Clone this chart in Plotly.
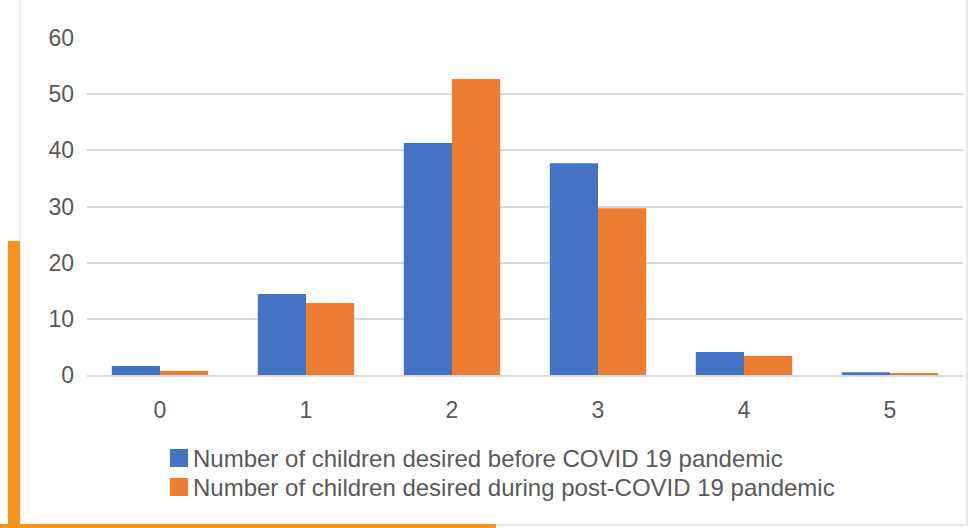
import plotly.graph_objects as go

# Number of children desired, share of respondents (%)
categories = ["0", "1", "2", "3", "4", "5"]
before_covid = [1.6, 14.4, 41.3, 37.7, 4.1, 0.5]
post_covid = [0.7, 12.8, 52.7, 29.7, 3.4, 0.3]
series_names = [
    "Number of children desired before COVID 19 pandemic",
    "Number of children desired during post-COVID 19 pandemic",
]
y_ticks = [0, 10, 20, 30, 40, 50, 60]

BLUE = "#4472C4"
ORANGE = "#ED7D31"
TEXT = "#595959"
FONT = "Liberation Sans, Arial, sans-serif"

W, H = 976, 528
ML, MR, MT, MB = 87, 13, 38, 153

fig = go.Figure()
fig.add_trace(go.Bar(x=categories, y=before_covid, name=series_names[0],
                     marker=dict(color=BLUE, line=dict(width=0))))
fig.add_trace(go.Bar(x=categories, y=post_covid, name=series_names[1],
                     marker=dict(color=ORANGE, line=dict(width=0))))


def px_x(p):
    return (p - ML) / (W - ML - MR)


def px_y(p):
    return (H - MB - p) / (H - MT - MB)


shapes = [
    # white card with a light border
    dict(type="rect", xref="paper", yref="paper",
         x0=px_x(20), x1=px_x(967), y0=px_y(525), y1=px_y(-5),
         fillcolor="white", line=dict(color="#e4e4e4", width=1.5), layer="below"),
    # orange accent strips of the page
    dict(type="rect", xref="paper", yref="paper",
         x0=px_x(8), x1=px_x(20), y0=px_y(528), y1=px_y(241),
         fillcolor="#F7941D", line=dict(width=0), layer="below"),
    dict(type="rect", xref="paper", yref="paper",
         x0=px_x(0), x1=px_x(496), y0=px_y(529), y1=px_y(524),
         fillcolor="#F7941D", line=dict(width=0), layer="below"),
]

# legend below the plot: colour key squares with their series names
annotations = []
legend_rows = [(series_names[0], BLUE, 458), (series_names[1], ORANGE, 487)]
for name, color, yc in legend_rows:
    shapes.append(dict(type="rect", xref="paper", yref="paper",
                       x0=px_x(170), x1=px_x(188), y0=px_y(yc + 9), y1=px_y(yc - 9),
                       fillcolor=color, line=dict(width=0)))
    annotations.append(dict(text=name, xref="paper", yref="paper",
                            x=px_x(191), y=px_y(yc), xanchor="left", yanchor="middle",
                            showarrow=False, font=dict(family=FONT, size=24, color=TEXT)))

fig.update_layout(
    width=W, height=H,
    margin=dict(l=ML, r=MR, t=MT, b=MB, pad=0),
    paper_bgcolor="white", plot_bgcolor="rgba(0,0,0,0)",
    barmode="group", bargap=0.34, bargroupgap=0,
    font=dict(family=FONT, color=TEXT, size=17),
    showlegend=False,
    shapes=shapes,
    annotations=annotations,
    xaxis=dict(showgrid=False, showline=True, linecolor="#d9d9d9", linewidth=2,
               ticks="", tickfont=dict(size=23, color=TEXT), ticklabelstandoff=13),
    yaxis=dict(range=[0, 60], tickvals=y_ticks, showgrid=True, gridcolor="#d9d9d9",
               gridwidth=2, zeroline=False, showline=False, ticks="",
               tickfont=dict(size=23, color=TEXT), ticklabelstandoff=12),
)

fig.write_html("out.html")
